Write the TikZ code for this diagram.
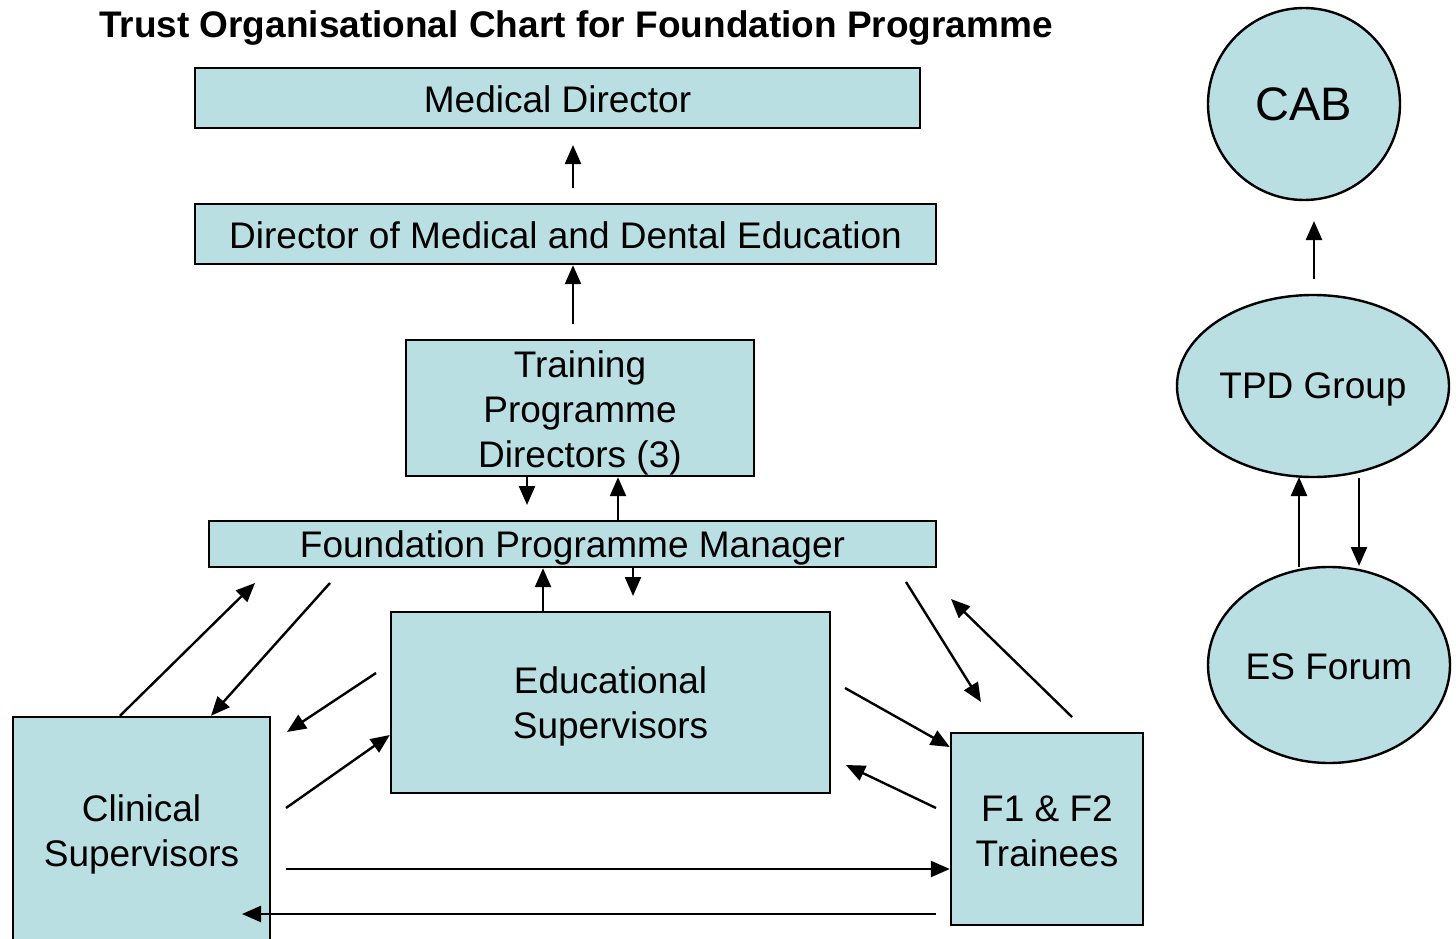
\documentclass[tikz,border=0pt]{standalone}
\usepackage{fontspec}
\setmainfont{Liberation Sans}
\usetikzlibrary{shapes.geometric,arrows.meta}
\definecolor{boxfill}{RGB}{185,223,227}
\newcommand{\lift}[1]{\rule{0pt}{#1pt}}
\begin{document}
\begin{tikzpicture}[x=1pt,y=-1pt,
  box/.style={draw=black, line width=2.4pt, fill=boxfill, inner sep=0pt, align=center, font=\fontsize{37}{45}\selectfont},
  oval/.style={ellipse, draw=black, line width=2.4pt, fill=boxfill, inner sep=0pt, align=center, font=\fontsize{37}{45}\selectfont},
  arr/.style={line width=2.4pt, -{Triangle[length=19pt,width=16pt]}}]
\useasboundingbox (0,0) rectangle (1456,939);
\fill[white] (0,0) rectangle (1456,939);

\node[font=\bfseries\fontsize{37}{44}\selectfont] (title) at (576,28) {Trust Organisational Chart for Foundation Programme};

\node[box, minimum width=725, minimum height=60] (md) at (557.5,98) {\lift{30}Medical Director};
\node[box, minimum width=741, minimum height=60] (dmde) at (565.5,234) {\lift{29}Director of Medical and Dental Education};
\node[box, minimum width=348, minimum height=136] (tpd) at (580,408) {\lift{36}Training\\Programme\\Directors (3)};
\node[box, minimum width=727, minimum height=46] (fpm) at (572.5,544) {\lift{35}Foundation Programme Manager};
\node[box, minimum width=439, minimum height=181] (es) at (610.5,702.5) {\lift{35}Educational\\Supervisors};
\node[box, minimum width=257, minimum height=226] (cs) at (141.5,830) {\lift{35}Clinical\\Supervisors};
\node[box, minimum width=192, minimum height=192] (f1) at (1047,829) {\lift{31}F1 \& F2\\Trainees};

\node[oval, minimum width=192, minimum height=192, font=\fontsize{47}{50}\selectfont] (cab) at (1304,104) {CAB};
\node[oval, minimum width=272, minimum height=182] (tpdg) at (1313,386) {\lift{33}TPD Group};
\node[oval, minimum width=242, minimum height=196] (esf) at (1329,665) {\lift{29}ES Forum};

% vertical chain
\coordinate (a1s) at (573,188); \coordinate (a1e) at (573,145);
\draw[arr] (a1s) -- (a1e);
\coordinate (a2s) at (573,324);
\draw[arr] (a2s) -- (a2s |- dmde.south);
\coordinate (a3e) at (527,505);
\draw[arr] (a3e |- tpd.south) -- (a3e);
\coordinate (a4x) at (618,0);
\draw[arr] (a4x |- fpm.north) -- (a4x |- tpd.south);
\coordinate (a5x) at (543,0);
\draw[arr] (a5x |- es.north) -- (a5x |- fpm.south);
\coordinate (a6e) at (633,596);
\draw[arr] (a6e |- fpm.south) -- (a6e);

% clinical supervisors
\coordinate (b1s) at (120,0); \coordinate (b1e) at (255,583);
\draw[arr] (b1s |- cs.north) -- (b1e);
\coordinate (b2s) at (330,583); \coordinate (b2x) at (211,0);
\draw[arr] (b2s) -- (b2x |- cs.north);
\coordinate (b3s) at (376,673); \coordinate (b3e) at (287,732);
\draw[arr] (b3s) -- (b3e);
\coordinate (b4s) at (286,808); \coordinate (b4y) at (0,735);
\draw[arr] (b4s) -- (es.west |- b4y);
\coordinate (b5s) at (286,869);
\draw[arr] (b5s) -- (f1.west |- b5s);
\coordinate (b6s) at (936,914); \coordinate (b6e) at (242,914);
\draw[arr] (b6s) -- (b6e);

% trainees
\coordinate (c1s) at (845,688); \coordinate (c1y) at (0,747);
\draw[arr] (c1s) -- (f1.west |- c1y);
\coordinate (c2s) at (936,808); \coordinate (c2e) at (846,765);
\draw[arr] (c2s) -- (c2e);
\coordinate (c3s) at (906,582); \coordinate (c3e) at (981,702);
\draw[arr] (c3s) -- (c3e);
\coordinate (c4s) at (1072,717); \coordinate (c4e) at (951,599);
\draw[arr] (c4s) -- (c4e);

% right column
\coordinate (d1s) at (1314,279); \coordinate (d1e) at (1314,221);
\draw[arr] (d1s) -- (d1e);
\coordinate (d2s) at (1299,567); \coordinate (d2e) at (1299,477);
\draw[arr] (d2s) -- (d2e);
\coordinate (d3s) at (1359,478); \coordinate (d3e) at (1359,566);
\draw[arr] (d3s) -- (d3e);
\end{tikzpicture}
\end{document}
